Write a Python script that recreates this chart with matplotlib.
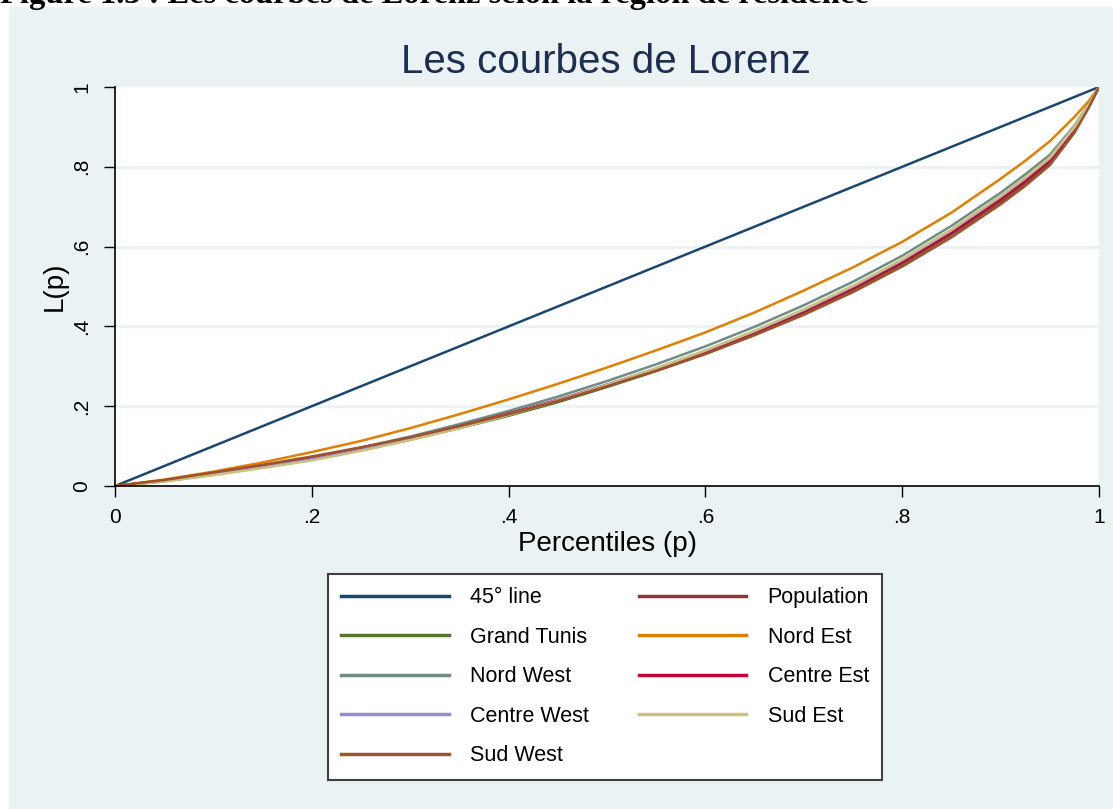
import numpy as np
import matplotlib.pyplot as plt
from matplotlib.patches import Rectangle

plt.rcParams['font.family'] = ['Liberation Sans', 'DejaVu Sans']

# cumulative population share
p = [0, .05, .1, .15, .2, .25, .3, .35, .4, .45, .5, .55, .6, .65, .7, .75,
     .8, .85, .9, .925, .95, .975, .99, 1]

# cumulative expenditure share
population = [0, .013, .030, .048, .068, .092, .118, .147, .178, .212, .250, .290,
              .333, .381, .433, .491, .556, .630, .712, .758, .810, .890, .952, 1]
grand_tunis = [0, .012, .029, .047, .066, .090, .116, .145, .176, .210, .248, .288,
               .331, .379, .432, .491, .557, .632, .716, .762, .814, .893, .954, 1]
nord_est = [0, .016, .036, .059, .085, .113, .145, .180, .217, .256, .297, .340,
            .385, .435, .490, .548, .612, .685, .770, .815, .864, .925, .966, 1]
nord_west = [0, .013, .031, .050, .071, .096, .124, .155, .188, .224, .263, .305,
             .350, .399, .453, .512, .577, .652, .735, .781, .830, .903, .958, 1]
centre_est = [0, .014, .032, .051, .071, .095, .121, .150, .182, .216, .254, .294,
              .337, .385, .437, .495, .560, .634, .718, .764, .815, .894, .954, 1]
centre_west = [0, .012, .029, .047, .067, .091, .118, .148, .180, .215, .254, .295,
               .339, .388, .441, .500, .566, .641, .725, .771, .821, .898, .956, 1]
sud_est = [0, .011, .027, .045, .064, .088, .115, .145, .178, .214, .253, .295,
           .340, .389, .443, .502, .568, .643, .727, .773, .823, .900, .957, 1]
sud_west = [0, .015, .034, .053, .074, .097, .122, .150, .180, .213, .250, .289,
            .331, .378, .429, .486, .550, .623, .706, .752, .804, .885, .950, 1]

labels = ['45° line', 'Grand Tunis', 'Nord West', 'Centre West', 'Sud West',
          'Population', 'Nord Est', 'Centre Est', 'Sud Est']
series = [p, grand_tunis, nord_west, centre_west, sud_west,
          population, nord_est, centre_est, sud_est]
colors = ['#1a476f', '#55752f', '#6e8e84', '#938dd2', '#a0522d',
          '#90353b', '#e37e00', '#c10534', '#cac27e']
# drawing order as in the original (45°, Population, Grand Tunis, Nord Est, ...)
draw_order = [0, 5, 1, 6, 2, 7, 3, 8, 4]

bg = '#eaf2f3'
fig = plt.figure(figsize=(11.13, 8.09), dpi=100)
fig.patch.set_facecolor('white')
fig.patches.append(Rectangle((9 / 1113, 0), 1, 1 - 7 / 809, transform=fig.transFigure,
                             facecolor=bg, edgecolor='none', zorder=-10))

# caption of the source document, cut at the top edge as in the original
fig.text(0.0, 1 - 3 / 809, 'Figure 1.3 : Les courbes de Lorenz selon la région de résidence',
         family=['Liberation Serif', 'DejaVu Serif'], weight='bold', fontsize=23.4,
         ha='left', va='baseline')

ax = fig.add_axes([115 / 1113, 1 - 486 / 809, 984 / 1113, 399 / 809])
ax.set_facecolor('white')

lines = {}
for i in draw_order:
    ln, = ax.plot(p, series[i], color=colors[i], lw=1.8, label=labels[i],
                  solid_joinstyle='round')
    lines[i] = ln

ax.set_xlim(0, 1)
ax.set_ylim(0, 1)
ticks = [0, .2, .4, .6, .8, 1]
ticklabels = ['0', '.2', '.4', '.6', '.8', '1']
ax.set_xticks(ticks, ticklabels)
ax.set_yticks(ticks, ticklabels)
for t in ax.get_yticklabels():
    t.set_rotation(90)
    t.set_va('center')
ax.tick_params(axis='both', length=8, width=1, labelsize=15, color='black')
ax.tick_params(axis='x', pad=7.5)
ax.tick_params(axis='y', pad=9)
for y in [.2, .4, .6, .8]:
    ax.axhline(y, color=bg, lw=2, zorder=0)
for s in ['top', 'right']:
    ax.spines[s].set_visible(False)
for s in ['left', 'bottom']:
    ax.spines[s].set_linewidth(1.2)

ax.set_xlabel('Percentiles (p)', fontsize=20, labelpad=3)
ax.set_ylabel('L(p)', fontsize=20, labelpad=3)
fig.text(606 / 1113, 1 - 62 / 809, 'Les courbes de Lorenz', fontsize=29,
         color='#1c2e52', ha='center', va='center')

leg = fig.legend([lines[i] for i in range(9)], labels, ncol=2,
                 loc='upper center', bbox_to_anchor=(605 / 1113, 1 - 574 / 809),
                 fontsize=15.5, frameon=True, fancybox=False, framealpha=1,
                 facecolor='white', handlelength=5.0, handletextpad=1.0,
                 columnspacing=2.3, labelspacing=0.86, borderpad=0.62,
                 borderaxespad=0)
leg.get_frame().set_edgecolor('#404040')
leg.get_frame().set_linewidth(1.5)
for h in leg.legend_handles:
    h.set_linewidth(2.5)

fig.savefig('out.png', dpi=100, facecolor=fig.get_facecolor())
